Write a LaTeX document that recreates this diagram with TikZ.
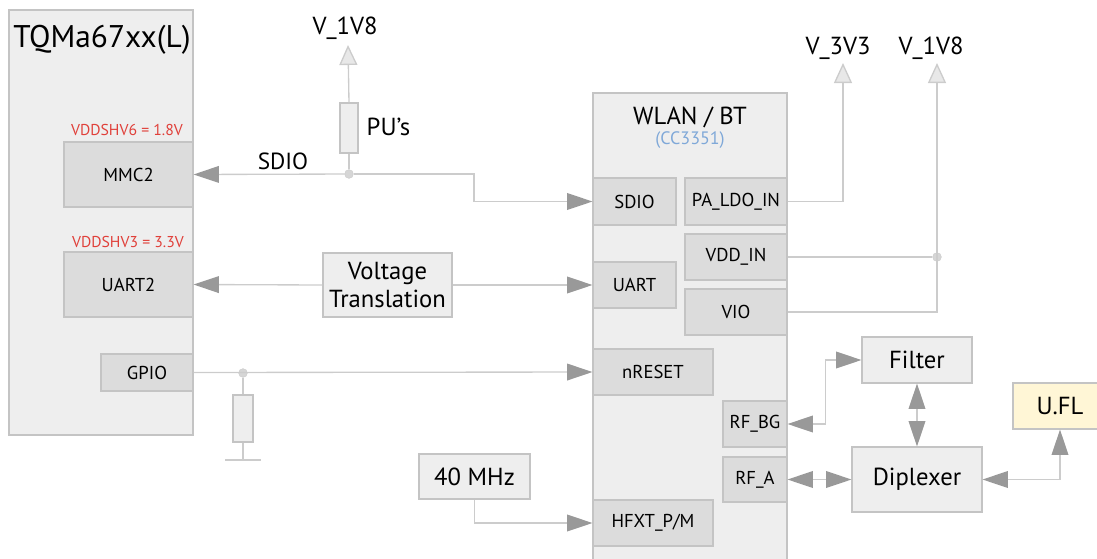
\documentclass[tikz,border=0pt]{standalone}
\usepackage{fontspec}
\setmainfont{PT Sans}
\usepackage{tikz}
\usetikzlibrary{arrows.meta,positioning}

\definecolor{panel}{HTML}{EEEEEE}
\definecolor{pinfill}{HTML}{DCDCDC}
\definecolor{edge}{HTML}{C4C4C4}
\definecolor{wiregray}{HTML}{CCCCCC}
\definecolor{tipgray}{HTML}{999999}
\definecolor{supfill}{HTML}{E8E8E8}
\definecolor{dotfill}{HTML}{D6D6D6}
\definecolor{voltred}{HTML}{E0403A}
\definecolor{chipblue}{HTML}{7FA8D8}
\definecolor{uflfill}{HTML}{FFF6D6}

\begin{document}
\begin{tikzpicture}[
  x=0.75pt, y=-0.75pt,
  font=\fontsize{14}{16}\selectfont,
  wh/.style 2 args={minimum width=#1*0.75pt, minimum height=#2*0.75pt},
  box/.style={draw=edge, fill=#1, inner sep=0pt, line width=0.8pt},
  box/.default=panel,
  pin/.style={box=pinfill},
  res/.style={draw=edge, fill=panel, inner sep=0pt, line width=0.8pt},
  dot/.style={circle, draw=wiregray, fill=dotfill, inner sep=0pt, minimum size=6.5pt},
  wire/.style={draw=wiregray, line width=1pt},
  arr/.style={wire, -{Triangle[length=19pt, width=12.5pt, color=tipgray]}},
  dbl/.style={wire, {Triangle[length=19pt, width=12.5pt, color=tipgray]}-{Triangle[length=19pt, width=12.5pt, color=tipgray]}},
  sup/.style={wire, -{Triangle[length=15pt, width=13.5pt, fill=supfill]}},
  big/.style={font=\fontsize{18.5}{21}\selectfont},
  volt/.style={font=\fontsize{11.8}{13}\selectfont, text=voltred}
]
\useasboundingbox (0,0) rectangle (1097,558);

% Module
\node[box, wh={184}{425}] (tqma) at (101,222.5) {};
\node[anchor=west, inner sep=0pt, font=\fontsize{23.5}{26}\selectfont] (tqmaname) at (13,40) {TQMa67xx(L)};
\node[volt] (mmcv) at (127,130) {VDDSHV6 = 1.8V};
\node[pin, wh={129}{65}] (mmc) at (128.5,174.5) {MMC2};
\node[volt] (uartv) at (128,242) {VDDSHV3 = 3.3V};
\node[pin, wh={129}{65}] (uart2) at (128.5,284.5) {UART2};
\node[pin, wh={92}{37}] (gpio) at (147,372.5) {GPIO};

% SDIO pull-ups
\node[big] (v18a) at (345,28) {V\_1V8};
\coordinate (v18atip) at (348,45);
\node[res, wh={18}{50}] (pu) at (349,128) {};
\node[big, anchor=west] (pulab) at (362,127) {PU’s};
\node[dot] (jsd) at (349,174) {};
\node[font=\fontsize{17.5}{19}\selectfont] (sdlab) at (283,161) {SDIO};

% Level shifter, reset pull-down, clock
\node[box, wh={129}{64}, align=center, big] (vt) at (387.5,285) {Voltage\\Translation};
\node[dot] (jgp) at (243,373) {};
\node[res, wh={20}{47}] (pd) at (243,418.5) {};
\coordinate (gnd) at (243,460);
\node[box, big, wh={111}{45}] (xtal) at (474.5,476.5) {40 MHz};

% WLAN / BT chip
\node[box, wh={194}{482}] (wlan) at (690,334) {};
\node[big] (wlanname) at (690,117) {WLAN / BT};
\node[font=\fontsize{13.5}{15}\selectfont, text=chipblue] (wlanchip) at (690,140) {(CC3351)};
\node[pin, wh={83}{47}] (wsdio) at (634.5,201.5) {SDIO};
\node[pin, wh={102}{47}] (paldo) at (736,201.5) {PA\_LDO\_IN};
\node[pin, wh={102}{46}] (vddin) at (736,257) {VDD\_IN};
\node[pin, wh={83}{46}] (wuart) at (634.5,285) {UART};
\node[pin, wh={102}{46}] (vio) at (736,312) {VIO};
\node[pin, wh={120}{46}] (nreset) at (653,372) {nRESET};
\node[pin, wh={64}{46}] (rfbg) at (755,424) {RF\_BG};
\node[pin, wh={64}{45}] (rfa) at (755,479.5) {RF\_A};
\node[pin, wh={120}{46}] (hfxt) at (653,523) {HFXT\_P/M};

% Supplies
\node[big] (v33) at (838,48) {V\_3V3};
\coordinate (v33tip) at (843,63);
\node[big] (v18b) at (931,48) {V\_1V8};
\coordinate (v18btip) at (937,63);
\node[dot] (jvdd) at (937,257) {};

% RF path
\node[box, big, wh={110}{46}] (filter) at (917,360) {Filter};
\node[box, big, wh={130}{65}] (dipl) at (917,479.5) {Diplexer};
\node[box=uflfill, big, wh={94}{46}] (ufl) at (1060,406) {U.FL};

% Edges
\draw[wire] (jsd) -- (pu.south);
\draw[sup] (pu.north) -- (v18atip);
\draw[arr] (jsd) -- (mmc.east);
\draw[arr] (jsd) -- (474,174) |- (wsdio.west);
\draw[arr] (vt.west) -- (uart2.east);
\draw[arr] (vt.east) -- (wuart.west);
\draw[arr] (gpio.east) -- (nreset.west);
\draw[wire] (jgp) -- (pd.north);
\draw[wire] (pd.south) -- (gnd);
\draw[wire] ([xshift=-13.5pt]gnd) -- ([xshift=13.5pt]gnd);
\draw[arr] (xtal.south) |- (hfxt.west);
\draw[sup] (paldo.east) -| (v33tip);
\draw[wire] (vddin.east) -- (jvdd);
\draw[sup] (vio.east) -| (v18btip);
\draw[dbl] (rfbg.east) -- ++(38,0) |- (filter.west);
\draw[dbl] (filter.south) -- (dipl.north);
\draw[dbl] (rfa.east) -- (dipl.west);
\draw[dbl] (dipl.east) -| (ufl.south);
\end{tikzpicture}
\end{document}
